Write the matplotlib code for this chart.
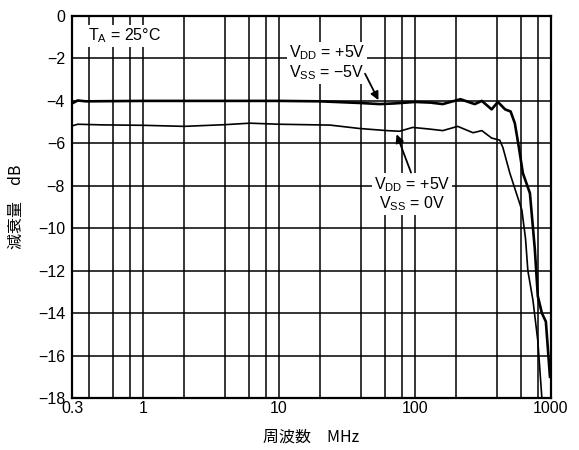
import matplotlib
matplotlib.use("Agg")
from matplotlib import pyplot as plt
from matplotlib.ticker import FixedLocator, NullFormatter

plt.rcParams['font.family'] = ['Liberation Sans', 'Noto Sans CJK JP']
plt.rcParams['mathtext.fontset'] = 'custom'
plt.rcParams['mathtext.rm'] = 'Liberation Sans'
plt.rcParams['axes.unicode_minus'] = True

# curve for VDD = +5V, VSS = -5V (thick)
freq_dual = [0.3, 0.33, 0.38, 1, 10, 20, 40, 55, 70, 100, 130, 160, 216, 255, 275,
             310, 366, 407, 460, 505, 542, 581, 621, 700, 761, 800, 857, 917, 983]
db_dual = [-4.12, -3.98, -4.02, -4.0, -4.0, -4.02, -4.1, -4.15, -4.12, -4.05, -4.08,
           -4.15, -3.92, -4.08, -4.15, -4.0, -4.4, -4.05, -4.4, -4.5, -5.05, -6.2,
           -7.4, -8.35, -11.0, -13.2, -14.0, -14.4, -17.0]

# curve for VDD = +5V, VSS = 0V (thin)
freq_single = [0.3, 0.33, 0.5, 1, 2, 4, 6.1, 10, 23.7, 39, 62, 77, 96, 129, 160, 206,
               267, 310, 366, 420, 443, 498, 611, 650, 676, 737, 800, 857]
db_single = [-5.18, -5.1, -5.13, -5.15, -5.2, -5.12, -5.05, -5.1, -5.14, -5.3, -5.4,
             -5.43, -5.25, -5.33, -5.4, -5.2, -5.5, -5.4, -5.75, -5.85, -6.2, -7.4,
             -9.15, -10.5, -12.0, -13.4, -15.3, -18.0]

x_major = [0.3, 1, 10, 100, 1000]
x_major_labels = ["0.3", "1", "10", "100", "1000"]
x_grid = [0.4, 0.6, 0.8, 2, 4, 6, 8, 20, 40, 60, 80, 200, 400, 600, 800]
y_ticks = list(range(-18, 1, 2))

fs = 11.5
fig = plt.figure(figsize=(5.79, 4.5), dpi=100)
ax = fig.add_axes([0.1244, 0.1156, 0.8272, 0.8488])

ax.set_xscale("log")
ax.set_xlim(0.3, 1000)
ax.set_ylim(-18, 0)

ax.xaxis.set_major_locator(FixedLocator(x_major))
ax.set_xticklabels(x_major_labels)
ax.xaxis.set_minor_locator(FixedLocator(x_grid))
ax.xaxis.set_minor_formatter(NullFormatter())
ax.set_yticks(y_ticks)
ax.set_yticklabels([str(v).replace("-", "\u2212") for v in y_ticks])

ax.grid(True, which="both", color="black", linewidth=1.1)
ax.tick_params(which="both", length=0, labelsize=fs, colors="black")
ax.tick_params(axis="y", pad=5)
ax.tick_params(axis="x", pad=2)
for s in ax.spines.values():
    s.set_linewidth(1.6)
ax.set_axisbelow(True)

ax.plot(freq_dual, db_dual, color="black", linewidth=1.9, zorder=3)
ax.plot(freq_single, db_single, color="black", linewidth=1.2, zorder=3)

box = dict(facecolor="white", edgecolor="none", pad=1.5)
ax.text(0.393, -0.94, "T$_\\mathregular{A}$ = 25\u00b0C", fontsize=fs, ha="left",
        va="center", bbox=box, zorder=4)

ax.text(22.5, -2.2, "V$_\\mathregular{DD}$ = +5V\nV$_\\mathregular{SS}$ = \u22125V",
        fontsize=fs, ha="center", va="center", linespacing=1.05, bbox=box, zorder=4)
ax.annotate("", xy=(55, -4.08), xytext=(42, -2.6),
            arrowprops=dict(arrowstyle="-|>", color="black", lw=1.3,
                            mutation_scale=12), zorder=5)

ax.text(95, -8.4, "V$_\\mathregular{DD}$ = +5V\nV$_\\mathregular{SS}$ = 0V",
        fontsize=fs, ha="center", va="center", linespacing=1.05, bbox=box, zorder=4)
ax.annotate("", xy=(72, -5.45), xytext=(95, -7.5),
            arrowprops=dict(arrowstyle="-|>", color="black", lw=1.3,
                            mutation_scale=12), zorder=5)

ax.set_xlabel("周波数　MHz", family=["Noto Sans CJK JP", "Liberation Sans"],
              fontsize=fs, labelpad=9)
ax.set_ylabel("減衰量　dB", family=["Noto Sans CJK JP", "Liberation Sans"],
              fontsize=fs, labelpad=9)

fig.savefig("out.png", dpi=100)
